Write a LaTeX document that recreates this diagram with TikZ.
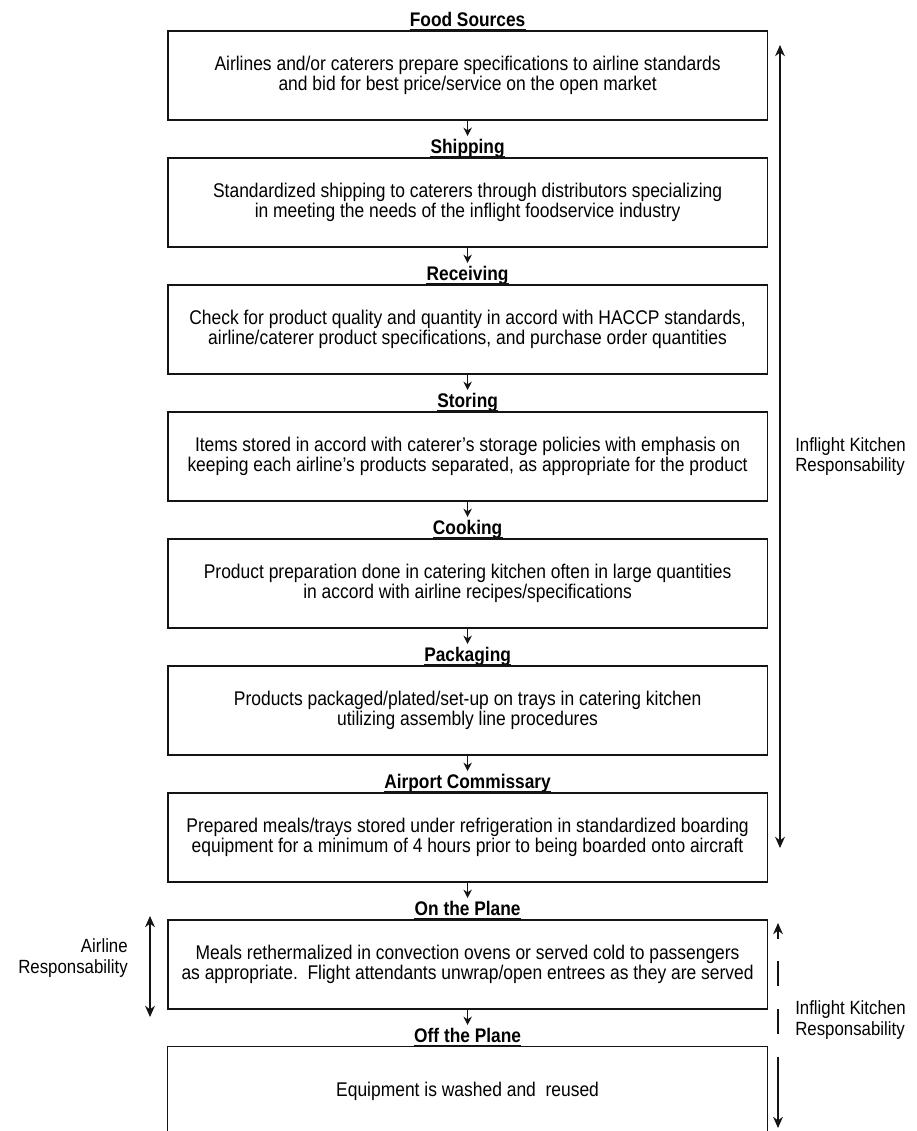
\documentclass[tikz,border=0pt]{standalone}
\usepackage{fontspec}
\setmainfont{Liberation Sans}[FakeStretch=0.88]
\usepackage{tikz}
\usetikzlibrary{arrows.meta,positioning}
\definecolor{flowink}{RGB}{20,20,20}

\begin{document}
\begin{tikzpicture}[
  font=\fontsize{14.1}{14.3}\selectfont,
  stage/.style={draw=flowink, line width=0.9pt, minimum width=14.98cm, minimum height=2.225cm, align=center, inner sep=0pt},
  stagetitle/.style={font=\fontsize{14}{14.3}\selectfont\bfseries, anchor=base, inner sep=0pt},
  titleline/.style={draw=flowink, line width=1.5pt},
  flowarrow/.style={draw=flowink, line width=0.8pt, -{Stealth[length=6pt,width=6pt]}, shorten >=2pt},
  resparrow/.style={draw=flowink, line width=0.8pt, {Stealth[length=8pt,width=7pt]}-{Stealth[length=8pt,width=7pt]}},
  resplabel/.style={align=left, anchor=west, inner sep=0pt}
]
\useasboundingbox (0,0) rectangle (22.925,-28.275);
\node[stage] (b1) at (11.69,-1.8875) {Airlines and/or caterers prepare specifications to airline standards\\and bid for best price/service on the open market};
\node[stage] (b2) at (11.69,-5.0625) {Standardized shipping to caterers through distributors specializing\\in meeting the needs of the inflight foodservice industry};
\node[stage] (b3) at (11.69,-8.2375) {Check for product quality and quantity in accord with HACCP standards,\\airline/caterer product specifications, and purchase order quantities};
\node[stage] (b4) at (11.69,-11.4125) {Items stored in accord with caterer's storage policies with emphasis on\\keeping each airline's products separated, as appropriate for the product};
\node[stage] (b5) at (11.69,-14.5875) {Product preparation done in catering kitchen often in large quantities\\in accord with airline recipes/specifications};
\node[stage] (b6) at (11.69,-17.7625) {Products packaged/plated/set-up on trays in catering kitchen\\utilizing assembly line procedures};
\node[stage] (b7) at (11.69,-20.9375) {Prepared meals/trays stored under refrigeration in standardized boarding\\equipment for a minimum of 4 hours prior to being boarded onto aircraft};
\node[stage] (b8) at (11.69,-24.1125) {Meals rethermalized in convection ovens or served cold to passengers\\as appropriate.\ \ Flight attendants unwrap/open entrees as they are served};
\node[stage, draw=none] (b9) at (11.69,-27.2875) {Equipment is washed and\ \ reused};
\draw[draw=flowink, line width=0.9pt] (b9.south west) -- (b9.north west) -- (b9.north east) -- (b9.south east);
% stage titles sit on the top edge of each box
\node[stagetitle] (t1) at ([yshift=0.1cm]b1.north) {Food Sources};
\node[stagetitle] (t2) at ([yshift=0.1cm]b2.north) {Shipping};
\node[stagetitle] (t3) at ([yshift=0.1cm]b3.north) {Receiving};
\node[stagetitle] (t4) at ([yshift=0.1cm]b4.north) {Storing};
\node[stagetitle] (t5) at ([yshift=0.1cm]b5.north) {Cooking};
\node[stagetitle] (t6) at ([yshift=0.1cm]b6.north) {Packaging};
\node[stagetitle] (t7) at ([yshift=0.1cm]b7.north) {Airport Commissary};
\node[stagetitle] (t8) at ([yshift=0.1cm]b8.north) {On the Plane};
\node[stagetitle] (t9) at ([yshift=0.1cm]b9.north) {Off the Plane};
\draw[titleline] (t1.west |- b1.north) -- (t1.east |- b1.north);
\draw[titleline] (t2.west |- b2.north) -- (t2.east |- b2.north);
\draw[titleline] (t3.west |- b3.north) -- (t3.east |- b3.north);
\draw[titleline] (t4.west |- b4.north) -- (t4.east |- b4.north);
\draw[titleline] (t5.west |- b5.north) -- (t5.east |- b5.north);
\draw[titleline] (t6.west |- b6.north) -- (t6.east |- b6.north);
\draw[titleline] (t7.west |- b7.north) -- (t7.east |- b7.north);
\draw[titleline] (t8.west |- b8.north) -- (t8.east |- b8.north);
\draw[titleline] (t9.west |- b9.north) -- (t9.east |- b9.north);
% flow between stages
\draw[flowarrow] (b1.south) -- (t2.north);
\draw[flowarrow] (b2.south) -- (t3.north);
\draw[flowarrow] (b3.south) -- (t4.north);
\draw[flowarrow] (b4.south) -- (t5.north);
\draw[flowarrow] (b5.south) -- (t6.north);
\draw[flowarrow] (b6.south) -- (t7.north);
\draw[flowarrow] (b7.south) -- (t8.north);
\draw[flowarrow] (b8.south) -- (t9.north);
% responsibility brackets
\coordinate (kitchentop) at (19.5,-1.125);
\coordinate (kitchenbot) at (19.5,-21.2);
\draw[resparrow] (kitchentop) -- (kitchenbot);
\node[resplabel, font=\fontsize{13.6}{14.3}\selectfont] (kitchen) at (19.875,-11.41) {Inflight Kitchen\\Responsability};
\coordinate (airlinetop) at (3.75,-22.9);
\coordinate (airlinebot) at (3.75,-25.425);
\draw[resparrow] (airlinetop) -- (airlinebot);
\node[align=right, anchor=east, inner sep=0pt, font=\fontsize{13.6}{14.3}\selectfont] (airline) at (3.2,-23.95) {Airline\\Responsability};
\coordinate (returntop) at (19.45,-23.075);
\coordinate (returnbot) at (19.45,-28.2);
\draw[resparrow, dash pattern=on 6pt off 16pt on 18pt off 16pt on 18pt off 16pt on 60pt] (returntop) -- (returnbot);
\node[resplabel, font=\fontsize{13.6}{14.3}\selectfont] (kitchenback) at (19.875,-25.5) {Inflight Kitchen\\Responsability};
\end{tikzpicture}
\end{document}
